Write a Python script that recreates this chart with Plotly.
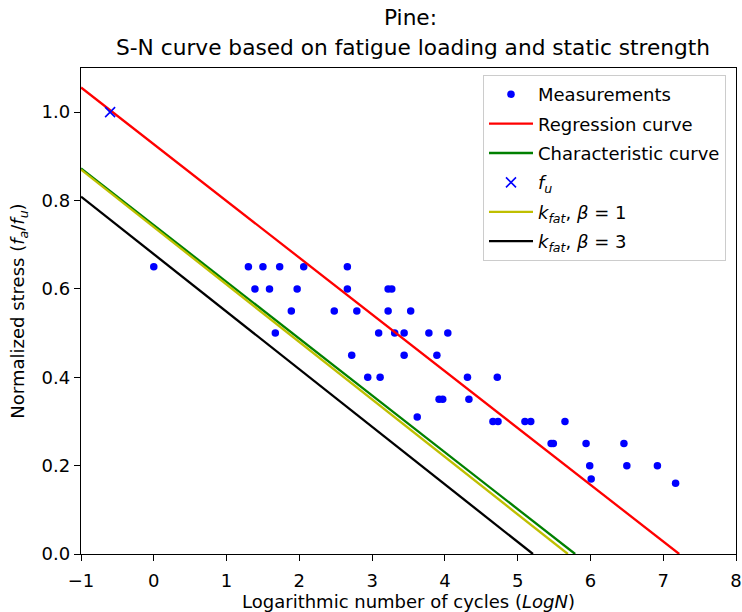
import plotly.graph_objects as go

# Measurements (log N, normalized stress)
meas_logN = [0.0,
             1.30, 1.50, 1.73, 2.06, 2.66,
             1.39, 1.59, 1.97, 2.66, 3.22, 3.27,
             1.89, 2.48, 2.79, 3.22, 3.53,
             1.67, 3.09, 3.31, 3.44, 3.78, 4.04,
             2.72, 3.44, 3.89,
             2.94, 3.11, 4.31, 4.72,
             3.92, 3.97, 4.33,
             3.62,
             4.66, 4.73, 5.10, 5.18, 5.65,
             5.46, 5.49, 5.94, 6.46,
             5.99, 6.50, 6.92,
             6.01, 7.17]
meas_stress = [0.65,
               0.65, 0.65, 0.65, 0.65, 0.65,
               0.60, 0.60, 0.60, 0.60, 0.60, 0.60,
               0.55, 0.55, 0.55, 0.55, 0.55,
               0.50, 0.50, 0.50, 0.50, 0.50, 0.50,
               0.45, 0.45, 0.45,
               0.40, 0.40, 0.40, 0.40,
               0.35, 0.35, 0.35,
               0.31,
               0.30, 0.30, 0.30, 0.30, 0.30,
               0.25, 0.25, 0.25, 0.25,
               0.20, 0.20, 0.20,
               0.17, 0.16]

fu_logN = [-0.6]
fu_stress = [1.0]

# Lines: x from -1 to zero-crossing
regr_x = [-1.0, 7.22]
regr_y = [1.056, 0.0]
char_x = [-1.0, 5.79]
char_y = [0.873, 0.0]
kfat1_x = [-1.0, 5.69]
kfat1_y = [0.870, 0.0]
kfat3_x = [-1.0, 5.21]
kfat3_y = [0.809, 0.0]

x_ticks = [-1, 0, 1, 2, 3, 4, 5, 6, 7, 8]
y_ticks = [0.0, 0.2, 0.4, 0.6, 0.8, 1.0]

title_line1 = "Pine:"
title_line2 = "S-N curve based on fatigue loading and static strength"

FONT = "DejaVu Sans"
W, H = 742, 612
L, R, T, B = 81, 6, 68, 58
PW, PH = W - L - R, H - T - B


def px_x(p):
    return (p - L) / PW


def px_y(p):
    return (H - B - p) / PH


fig = go.Figure()
fig.add_trace(go.Scatter(x=meas_logN, y=meas_stress, mode="markers",
                         marker=dict(color="blue", size=7.5),
                         name="Measurements", legendgroup="a"))
fig.add_trace(go.Scatter(x=regr_x, y=regr_y, mode="lines",
                         line=dict(color="red", width=2.3),
                         name="Regression curve", legendgroup="b"))
fig.add_trace(go.Scatter(x=char_x, y=char_y, mode="lines",
                         line=dict(color="green", width=2.3),
                         name="Characteristic curve", legendgroup="c"))
fig.add_trace(go.Scatter(x=fu_logN, y=fu_stress, mode="markers",
                         marker=dict(color="blue", size=10, symbol="x-thin-open",
                                     line=dict(color="blue", width=1.6)),
                         name="<i>f</i><sub><i>u</i></sub>", legendgroup="d"))
fig.add_trace(go.Scatter(x=kfat1_x, y=kfat1_y, mode="lines",
                         line=dict(color="#bfbf00", width=2.3),
                         name="<i>k</i><sub><i>fat</i></sub>, <i>β</i> = 1", legendgroup="e"))
fig.add_trace(go.Scatter(x=kfat3_x, y=kfat3_y, mode="lines",
                         line=dict(color="black", width=2.3),
                         name="<i>k</i><sub><i>fat</i></sub>, <i>β</i> = 3", legendgroup="f"))

axis_common = dict(showline=True, linecolor="black", linewidth=1.3, mirror=True,
                   ticks="outside", ticklen=6, tickcolor="black", tickwidth=1.3,
                   showgrid=False, zeroline=False, automargin=False,
                   tickfont=dict(family=FONT, size=18, color="black"))

fig.update_layout(
    width=W, height=H,
    margin=dict(l=L, r=R, t=T, b=B),
    paper_bgcolor="white", plot_bgcolor="white",
    font=dict(family=FONT, color="black"),
    xaxis=dict(range=[-1, 8], tickvals=x_ticks,
               ticktext=["\u22121"] + [str(v) for v in x_ticks[1:]],
               ticklabelstandoff=4,
               title=dict(text="Logarithmic number of cycles (<i>LogN</i>)",
                          font=dict(family=FONT, size=18), standoff=4),
               **axis_common),
    yaxis=dict(range=[0, 1.1], tickvals=y_ticks, tickformat=".1f",
               title=dict(text="Normalized stress (<i>f</i><sub><i>a</i></sub>/<i>f</i><sub><i>u</i></sub>)",
                          font=dict(family=FONT, size=18), standoff=12),
               **axis_common),
    legend=dict(x=px_x(726), y=px_y(75), xref="paper", yref="paper",
                xanchor="right", yanchor="top",
                bgcolor="rgba(255,255,255,0.8)", bordercolor="#cccccc", borderwidth=1,
                font=dict(family=FONT, size=18, color="black"),
                tracegroupgap=3, itemwidth=44),
    showlegend=True,
    annotations=[
        dict(text=title_line1, x=px_x(410), y=px_y(18), xref="paper", yref="paper",
             xanchor="center", yanchor="middle", showarrow=False,
             font=dict(family=FONT, size=21.7, color="black")),
        dict(text=title_line2, x=px_x(413), y=px_y(47), xref="paper", yref="paper",
             xanchor="center", yanchor="middle", showarrow=False,
             font=dict(family=FONT, size=21.7, color="black")),
    ],
)

fig.write_html("out.html", config={"displayModeBar": False},
               post_script="document.body.style.margin='0';document.body.style.overflow='hidden';")
